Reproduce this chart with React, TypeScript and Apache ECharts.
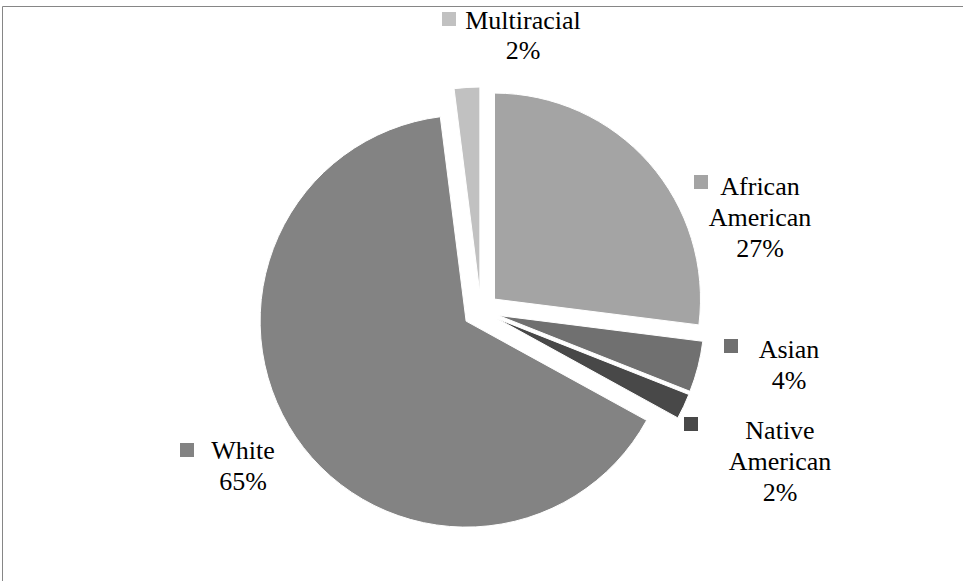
import React, { useEffect, useRef } from "react";
import * as echarts from "echarts";

const categories = ["African American", "Asian", "Native American", "White", "Multiracial"];
const labelNames = ["African\nAmerican", "Asian", "Native\nAmerican", "White", "Multiracial"];
const values = [27, 4, 2, 65, 2];
const colors = ["#a4a4a4", "#707070", "#484848", "#838383", "#c1c1c1"];
// label block centres, line heights and legend-key centres (layout only)
const labelPos: [number, number][] = [
  [760, 217],
  [789, 365],
  [780, 461],
  [243, 466],
  [523, 35],
];
const lineHeights = [31, 31, 31, 31, 30];
const keyPos: [number, number][] = [
  [701, 182],
  [731, 346],
  [691, 424],
  [187, 450],
  [449, 19],
];

const FONT = "Liberation Serif";

export default function App() {
  const ref = useRef<HTMLDivElement>(null);
  useEffect(() => {
    if (!ref.current) return;
    const chart = echarts.init(ref.current, null, { renderer: "svg" });
    const total = values.reduce((a, b) => a + b, 0);
    const texts = categories.map((_, i) => ({
      type: "text",
      x: labelPos[i][0],
      y: labelPos[i][1],
      silent: true,
      style: {
        text: labelNames[i] + "\n" + Math.round((values[i] / total) * 100) + "%",
        fontFamily: FONT,
        fontSize: 26,
        lineHeight: lineHeights[i],
        fill: "#000000",
        align: "center",
        verticalAlign: "middle",
      },
    }));
    const keys = categories.map((_, i) => ({
      type: "rect",
      silent: true,
      shape: { x: keyPos[i][0] - 7, y: keyPos[i][1] - 7, width: 14, height: 14 },
      style: { fill: colors[i] },
    }));
    chart.setOption({
      animation: false,
      backgroundColor: "#ffffff",
      graphic: [
        {
          type: "rect",
          shape: { x: 2.5, y: 6.5, width: 1200, height: 1200 },
          style: { fill: "none", stroke: "#868686", lineWidth: 1 },
          silent: true,
        },
        ...texts,
        ...keys,
      ],
      series: [
        {
          type: "pie",
          center: [481, 311],
          radius: 206,
          startAngle: 90,
          clockwise: true,
          selectedMode: "multiple",
          selectedOffset: 18,
          avoidLabelOverlap: false,
          itemStyle: { borderColor: "#ffffff", borderWidth: 1 },
          label: { show: false },
          labelLine: { show: false },
          emphasis: { disabled: true },
          data: categories.map((name, i) => ({
            name,
            value: values[i],
            selected: true,
            itemStyle: { color: colors[i] },
          })),
        },
      ],
    });
    return () => chart.dispose();
  }, []);
  return (
    <div
      ref={ref}
      style={{ position: "absolute", left: 0, top: 0, width: 963, height: 581 }}
    />
  );
}
